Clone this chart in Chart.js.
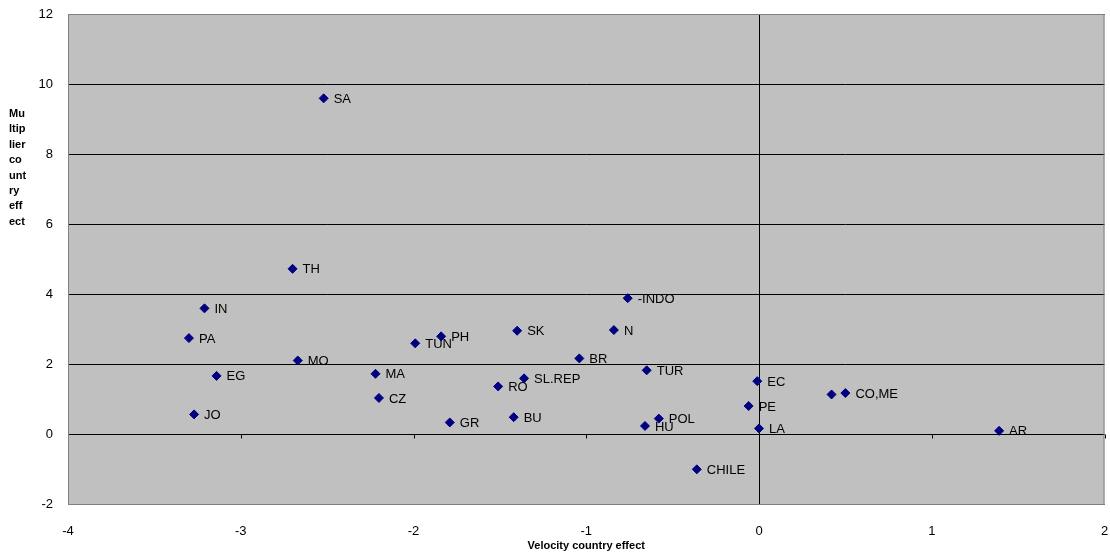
<!DOCTYPE html>
<html>
<head>
<meta charset="utf-8">
<script src="https://cdn.jsdelivr.net/npm/chart.js@4.4.0/dist/chart.umd.min.js"></script>
<style>
    html, body { margin: 0; padding: 0; background: #fff; }
    #wrap { width: 1110px; height: 555px; }
</style>
</head>
<body>
<div id="wrap"><canvas id="scatter"></canvas></div>
<script>
// country labels and their effects
const countries = ['SA', 'TH', 'IN', 'PA', 'TUN', 'PH', 'MO', 'EG', 'MA', 'CZ', 'JO', 'GR',
    '-INDO', 'SK', 'N', 'BR', 'TUR', 'SL.REP', 'RO', 'BU', 'POL', 'HU', 'CHILE',
    'EC', 'PE', 'LA', '', 'CO,ME', 'AR'];
const velocityEffect = [-2.52, -2.70, -3.21, -3.30, -1.99, -1.84, -2.67, -3.14, -2.22, -2.20, -3.27, -1.79,
    -0.76, -1.40, -0.84, -1.04, -0.65, -1.36, -1.51, -1.42, -0.58, -0.66, -0.36,
    -0.01, -0.06, 0.00, 0.42, 0.50, 1.39];
const multiplierEffect = [9.59, 4.72, 3.59, 2.74, 2.59, 2.79, 2.10, 1.66, 1.72, 1.03, 0.56, 0.33,
    3.88, 2.95, 2.97, 2.16, 1.82, 1.59, 1.36, 0.48, 0.44, 0.23, -1.01,
    1.51, 0.80, 0.16, 1.13, 1.17, 0.09];

const xTitle = 'Velocity country effect';
const yTitleLines = ['Mu', 'ltip', 'lier', 'co', 'unt', 'ry', 'eff', 'ect'];

const FONT = '"Liberation Sans", Arial, sans-serif';

// grey plot background, zero axes with tick marks, point labels, axis titles
const excelLook = {
    id: 'excelLook',
    beforeDraw(chart) {
        const { ctx, chartArea: a } = chart;
        ctx.save();
        ctx.fillStyle = '#c0c0c0';
        ctx.fillRect(a.left, a.top, a.right - a.left, a.bottom - a.top);
        ctx.restore();
    },
    beforeDatasetsDraw(chart) {
        const { ctx, chartArea: a, scales: { x, y } } = chart;
        const x0 = Math.round(x.getPixelForValue(0)) + 0.5;
        const y0 = Math.round(y.getPixelForValue(0)) + 0.5;
        ctx.save();
        ctx.strokeStyle = '#000';
        ctx.lineWidth = 1;
        ctx.beginPath();
        ctx.moveTo(a.left, y0); ctx.lineTo(a.right, y0);
        ctx.moveTo(x0, a.top); ctx.lineTo(x0, a.bottom);
        x.ticks.forEach(t => {
            const px = Math.round(x.getPixelForValue(t.value)) + 0.5;
            ctx.moveTo(px, y0); ctx.lineTo(px, y0 + 4);
        });
        y.ticks.forEach(t => {
            const py = Math.round(y.getPixelForValue(t.value)) + 0.5;
            ctx.moveTo(x0 - 4, py); ctx.lineTo(x0, py);
        });
        ctx.stroke();
        // plot border
        ctx.strokeStyle = '#808080';
        ctx.strokeRect(a.left + 0.5, a.top + 0.5, a.right - a.left - 1, a.bottom - a.top);
        ctx.restore();
    },
    afterDatasetsDraw(chart) {
        const { ctx, chartArea: a } = chart;
        const meta = chart.getDatasetMeta(0);
        ctx.save();
        ctx.font = '13px ' + FONT;
        ctx.fillStyle = '#000';
        ctx.textBaseline = 'middle';
        ctx.textAlign = 'left';
        meta.data.forEach((pt, i) => {
            if (countries[i]) ctx.fillText(countries[i], pt.x + 10, pt.y + 1);
        });
        // axis titles
        ctx.font = 'bold 11px ' + FONT;
        ctx.textAlign = 'center';
        ctx.fillText(xTitle, (a.left + a.right) / 2, 546);
        ctx.textAlign = 'left';
        yTitleLines.forEach((s, i) => ctx.fillText(s, 9, 114 + i * 15.4));
        ctx.restore();
    }
};

new Chart(document.getElementById('scatter'), {
    type: 'scatter',
    data: {
        datasets: [{
            data: velocityEffect.map((v, i) => ({ x: v, y: multiplierEffect[i] })),
            backgroundColor: '#000080',
            borderColor: '#000080',
            borderWidth: 1,
            pointStyle: 'rectRot',
            pointRadius: 4.5,
            pointHoverRadius: 4.5
        }]
    },
    options: {
        responsive: true,
        maintainAspectRatio: false,
        animation: false,
        layout: { padding: { top: 14, right: 3, left: 0, bottom: 0 } },
        plugins: {
            legend: { display: false },
            tooltip: { enabled: false }
        },
        scales: {
            x: {
                type: 'linear',
                min: -4,
                max: 2,
                ticks: { stepSize: 1, color: '#000', padding: 12, font: { size: 13, family: FONT } },
                grid: { display: false },
                border: { display: false },
                afterFit(scale) {
                    scale.height = 51;
                    scale.paddingLeft = 0;
                    scale.paddingRight = 0;
                }
            },
            y: {
                type: 'linear',
                min: -2,
                max: 12,
                ticks: { stepSize: 2, color: '#000', padding: 15, font: { size: 13, family: FONT } },
                grid: { color: '#000', lineWidth: 1, drawTicks: false },
                border: { display: false },
                afterFit(scale) {
                    scale.width = 68;
                    scale.paddingTop = 0;
                    scale.paddingBottom = 0;
                }
            }
        }
    },
    plugins: [excelLook]
});
</script>
</body>
</html>
